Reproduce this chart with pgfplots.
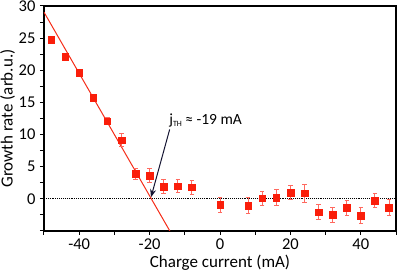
\documentclass[border=0pt]{standalone}
\usepackage{fontspec}
\setmainfont{Carlito}
\usepackage{pgfplots}
\pgfplotsset{compat=1.18}
\usetikzlibrary{arrows.meta}
\definecolor{mred}{RGB}{250,30,10}
\definecolor{ered}{RGB}{255,105,95}
\definecolor{lred}{RGB}{245,45,25}
\definecolor{navy}{RGB}{20,20,50}
\pgfplotstableread{
x y e
-48 24.8 0.35
-44 22.1 0.45
-40 19.6 0.5
-36 15.7 0.6
-32 12.1 0.6
-28 9.1 1.0
-24 3.9 0.9
-20 3.6 1.1
-16 1.9 1.1
-12 1.95 1.0
-8 1.8 1.1
0 -0.95 1.2
8 -1.05 1.2
12 0.1 1.1
16 0.2 1.3
20 1.0 1.1
24 0.85 1.4
28 -2.05 1.2
32 -2.5 1.2
36 -1.4 1.2
40 -2.6 1.3
44 -0.25 1.1
48 -1.35 1.3
}\data
\begin{document}
\begin{tikzpicture}
\begin{axis}[
  name=ax,
  scale only axis,
  width=352pt, height=225pt,
  xmin=-50, xmax=50, ymin=-5, ymax=30,
  xtick={-40,-20,0,20,40},
  minor xtick={-50,-30,-10,10,30,50},
  ytick={0,5,...,30},
  yticklabels={0,5,10,15,20,25,30},
  minor ytick={-5,-2.5,2.5,7.5,12.5,17.5,22.5,27.5},
  tick align=outside,
  xtick pos=bottom, ytick pos=left,
  major tick length=4pt, minor tick length=4pt,
  every tick/.style={black, line width=1pt},
  axis line style={line width=1.2pt},
  /pgf/number format/assume math mode=true,
  tick label style={font=\fontsize{16.5}{18}\selectfont},
  label style={font=\fontsize{17}{19}\selectfont},
  xlabel={Charge current (mA)},
  ylabel={Growth rate (arb.u.)},
  xlabel style={yshift=1pt},
  ylabel style={yshift=-3pt},
  yticklabel style={xshift=-1pt},
  clip=true,
]
\addplot[black, densely dotted, line width=0.9pt, forget plot] coordinates {(-50,0) (50,0)};
\addplot[lred, line width=1pt] coordinates {(-50,29.04) (-14.25,-5)};
\addplot[only marks, mark=square*, mark size=3.3pt, mred,
  mark options={fill=mred, draw=mred},
  error bars/.cd, y dir=both, y explicit,
  error bar style={ered, line width=0.9pt},
  error mark options={rotate=90, mark size=2.2pt, ered, line width=0.9pt}]
  table[x=x, y=y, y error=e] {\data};
\draw[-{Stealth[length=8pt,width=6pt]}, navy, line width=1pt] (axis cs:-14.3,10.8) -- (axis cs:-19.6,0.25);
\node[font=\fontsize{15.5}{17}\selectfont, anchor=base west] at (axis cs:-15.4,11.6) {j\raisebox{-0.35ex}{\fontsize{8}{9}\selectfont TH} ≈ -19 mA};
\end{axis}
\pgfresetboundingbox
\useasboundingbox ([shift={(-44pt,-41pt)}]ax.south west) rectangle ([shift={(3pt,6pt)}]ax.north east);
\end{tikzpicture}
\end{document}
